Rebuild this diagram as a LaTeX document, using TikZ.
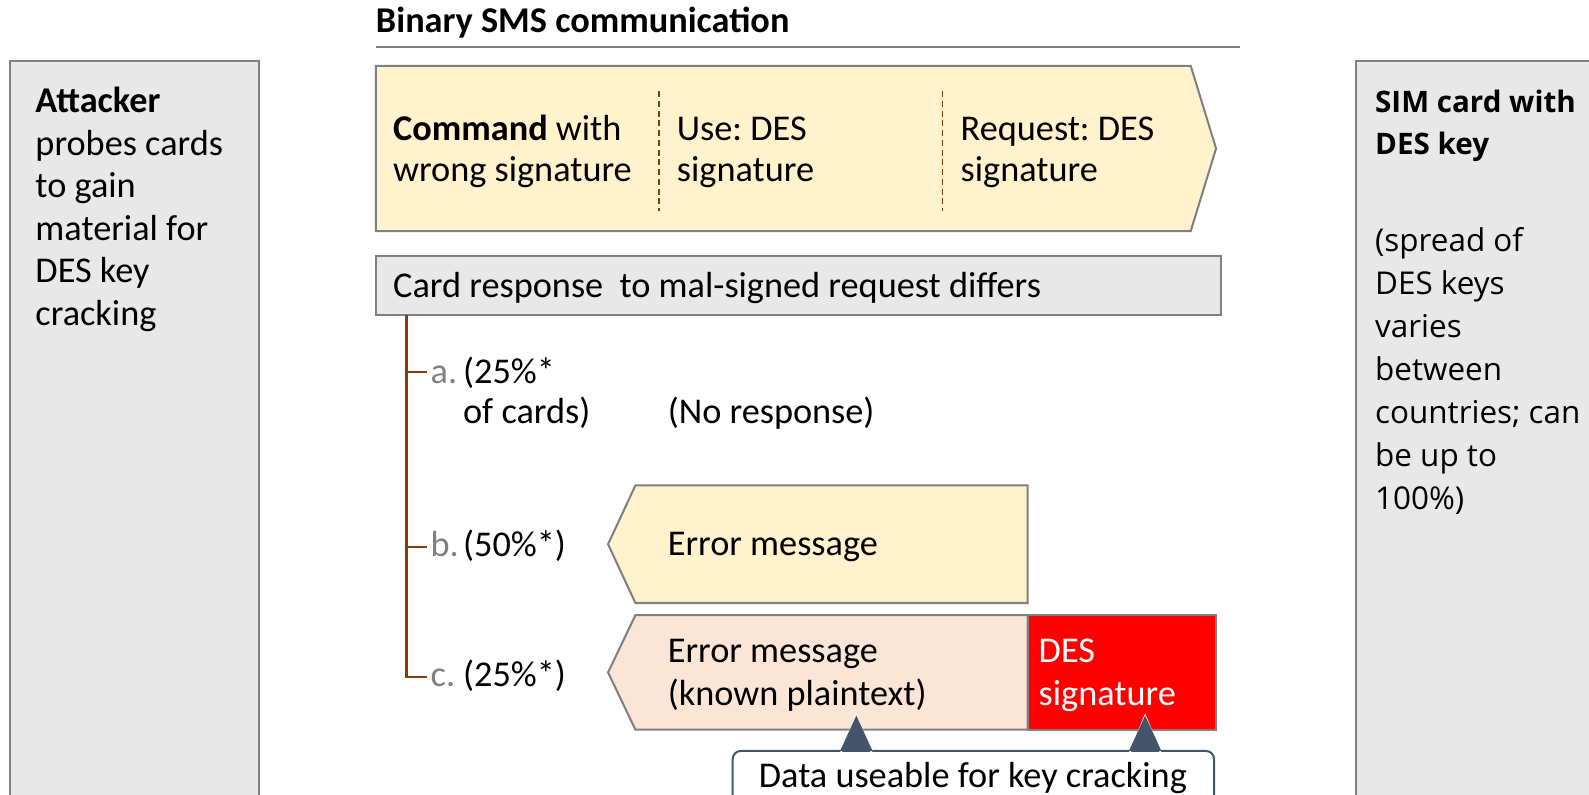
\documentclass[tikz,border=0pt]{standalone}
\usepackage{fontspec}
\setmainfont{Carlito}
\newfontfamily\osans{Open Sans}
\usetikzlibrary{fit}
\definecolor{boxgray}{RGB}{232,232,232}
\definecolor{edgegray}{RGB}{128,128,128}
\definecolor{lightyellow}{RGB}{255,242,204}
\definecolor{peach}{RGB}{251,229,214}
\definecolor{treebrown}{RGB}{132,60,12}
\definecolor{slate}{RGB}{68,84,106}
\definecolor{labelgray}{RGB}{128,128,128}
\definecolor{sigred}{RGB}{255,0,0}
\newcommand\mlines[1]{\begin{tabular}[t]{@{}l@{}}#1\end{tabular}}
\begin{document}
\frenchspacing
\begin{tikzpicture}[x=0.5pt,y=-0.5pt,
  every node/.style={inner sep=0pt, outer sep=0pt},
  txt/.style={anchor=base west, font=\fontsize{17.9}{21}\selectfont},
  txtn/.style={anchor=base west, font=\fontsize{17.9}{20}\selectfont},
  rtxt/.style={anchor=base west, font=\osans\fontsize{15.5}{21.2}\selectfont},
  rtitle/.style={anchor=base west, font=\osans\bfseries\fontsize{14.6}{20.6}\selectfont},
  panel/.style={fill=boxgray, draw=edgegray, line width=1pt},
  yshape/.style={fill=lightyellow, draw=edgegray, line width=1pt},
  pshape/.style={fill=peach, draw=edgegray, line width=1pt},
  rshape/.style={fill=sigred, draw=edgegray, line width=1pt},
  divider/.style={draw=treebrown, line width=0.9pt, dash pattern=on 3pt off 1.8pt},
  tree/.style={draw=treebrown, line width=1.2pt},
  pointer/.style={fill=slate, draw=white, line width=0.8pt, line join=miter},
  callout/.style={fill=white, draw=slate, line width=1pt, rounded corners=4pt},
  lbl/.style={txt, text=labelgray}]
\useasboundingbox (0,0) rectangle (1568,784);
\clip (0,0) rectangle (1568,784);

% side panels
\coordinate (a1) at (10,60); \coordinate (a2) at (256,800);
\node[panel, fit=(a1)(a2)] (attackerbox) {};
\coordinate (s1) at (1338,60); \coordinate (s2) at (1620,800);
\node[panel, fit=(s1)(s2)] (simbox) {};

\node[txt] (attackertext) at (35,111) {\mlines{\textbf{Attacker}\\probes cards\\to gain\\material for\\DES key\\cracking}};
\node[rtitle] (simtitle) at (1357,111) {\mlines{SIM card with\\DES key}};
\node[rtxt] (simtext) at (1357,248) {\mlines{(spread of\\DES keys\\varies\\between\\countries; can\\be up to\\100\%)}};

% title
\node[txt, font=\bfseries\fontsize{17.9}{21}\selectfont] (title) at (371,32) {Binary SMS communication};
\coordinate (rule1) at (371,46); \coordinate (rule2) at (1224,46);
\draw[edgegray, line width=1pt] (rule1) -- (rule2);

% command arrow
\draw[yshape] (371,65) -- (1175,65) -- (1200,146.5) -- (1175,228) -- (371,228) -- cycle;
\coordinate (d1t) at (650,90); \coordinate (d1b) at (650,208);
\coordinate (d2t) at (930,90); \coordinate (d2b) at (930,208);
\draw[divider] (d1t) -- (d1b);
\draw[divider] (d2t) -- (d2b);
\node[txtn] (cmd) at (388,139) {\mlines{\textbf{Command} with\\wrong signature}};
\node[txtn] (use) at (668,139) {\mlines{Use: DES\\signature}};
\node[txtn] (req) at (948,139) {\mlines{Request: DES\\signature}};

% card response
\coordinate (c1) at (371,253); \coordinate (c2) at (1205,311);
\node[panel, fit=(c1)(c2)] (resp) {};
\node[txt] (resptext) at (388,294) {Card response\ \ to mal-signed request differs};

% tree
\coordinate (ta) at (421,367);
\coordinate (tb) at (421,540);
\coordinate (tc) at (421,668);
\draw[tree] (resp.south west -| 401,0) -- (401,668) -- (tc);
\draw[tree] (401,367) -- (ta);
\draw[tree] (401,540) -- (tb);

\node[lbl] (la) at (425,378) {a.};
\node[txtn] (pa) at (457,378) {\mlines{(25\%*\\of cards)}};
\node[txt] (nores) at (659,418) {(No response)};
\node[lbl] (lb) at (425,549) {b.};
\node[txt] (pb) at (457,549) {(50\%*)};
\node[lbl] (lc) at (425,677) {c.};
\node[txt] (pc) at (457,677) {(25\%*)};

% error message b
\draw[yshape] (627,479) -- (1014,479) -- (1014,595) -- (627,595) -- (600,537) -- cycle;
\node[txt] (errb) at (659,548) {Error message};

% error message c + signature
\draw[pshape] (627,607) -- (1014,607) -- (1014,720) -- (627,720) -- (600,663.5) -- cycle;
\coordinate (r1) at (1014,607); \coordinate (r2) at (1200,720);
\node[rshape, fit=(r1)(r2)] (sig) {};
\node[txt] (errc) at (659,654) {\mlines{Error message\\(known plaintext)}};
\node[txt, text=white] (sigtext) at (1025,654) {\mlines{DES\\signature}};

% callout
\coordinate (k1) at (723,741); \coordinate (k2) at (1198,810);
\node[callout, fit=(k1)(k2)] (callbox) {};
\node[txt, anchor=base] (calltext) at (960,777) {Data useable for key cracking};
\coordinate (tip1) at (845,706);
\coordinate (tip2) at (1130,706);
\draw[pointer] (830,742) -- (tip1) -- (860,742);
\draw[pointer] (1115,742) -- (tip2) -- (1145,742);
\fill[slate] (829,741) -- (tip1) -- (861,741) -- cycle;
\fill[slate] (1114,741) -- (tip2) -- (1146,741) -- cycle;
\end{tikzpicture}
\end{document}
